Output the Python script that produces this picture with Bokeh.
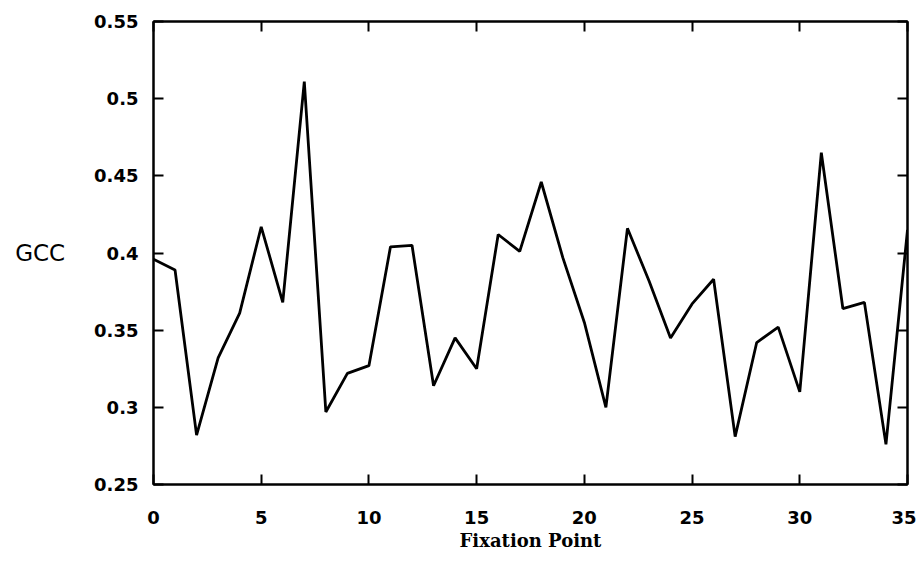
from bokeh.plotting import figure
from bokeh.models import LinearAxis, FixedTicker, Range1d
from bokeh.embed import file_html
from bokeh.resources import INLINE

fixation = list(range(36))
gcc = [0.396, 0.389, 0.282, 0.332, 0.361, 0.417, 0.368, 0.511, 0.297, 0.322,
       0.327, 0.404, 0.405, 0.314, 0.345, 0.325, 0.412, 0.401, 0.446, 0.397,
       0.355, 0.300, 0.416, 0.382, 0.345, 0.367, 0.383, 0.281, 0.342, 0.352,
       0.310, 0.465, 0.364, 0.368, 0.276, 0.415]

x_ticks = [0, 5, 10, 15, 20, 25, 30, 35]
y_ticks = [0.25, 0.30, 0.35, 0.40, 0.45, 0.50, 0.55]
y_tick_labels = ["0.25", "0.3", "0.35", "0.4", "0.45", "0.5", "0.55"]

TICK_FONT = "DejaVu Sans"
LABEL_FONT = "DejaVu Serif"

p = figure(width=916, height=553, output_backend="svg", toolbar_location=None,
           x_range=Range1d(0, 35), y_range=Range1d(0.25, 0.55),
           min_border_left=153, min_border_right=9, min_border_top=21,
           min_border_bottom=68, x_axis_location="below", y_axis_location="left")
p.grid.visible = False
p.outline_line_color = "black"
p.outline_line_width = 2
p.background_fill_color = "white"
p.border_fill_color = "white"

p.line(fixation, gcc, line_color="black", line_width=2.8)

def style(ax, labels=True):
    ax.axis_line_color = "black"
    ax.axis_line_width = 2
    ax.major_tick_in = 10
    ax.major_tick_out = 0
    ax.major_tick_line_width = 2
    ax.major_tick_line_color = "black"
    ax.minor_tick_line_color = None
    if labels:
        ax.major_label_text_font = TICK_FONT
        ax.major_label_text_font_style = "bold"
        ax.major_label_text_font_size = "18px"
        ax.major_label_text_color = "black"

xa = p.xaxis[0]
xa.ticker = FixedTicker(ticks=x_ticks)
style(xa)
xa.major_label_standoff = 26
xa.axis_label = "Fixation Point"
xa.axis_label_text_font = LABEL_FONT
xa.axis_label_text_font_style = "bold"
xa.axis_label_text_font_size = "18px"
xa.axis_label_text_color = "black"
xa.axis_label_standoff = 3

ya = p.yaxis[0]
ya.ticker = FixedTicker(ticks=y_ticks)
ya.major_label_overrides = {t: l for t, l in zip(y_ticks, y_tick_labels)}
style(ya)
ya.major_label_standoff = 15
ya.axis_label = "GCC"
ya.axis_label_orientation = "horizontal"
ya.axis_label_text_font = "DejaVu Sans"
ya.axis_label_text_font_style = "normal"
ya.axis_label_text_font_size = "23px"
ya.axis_label_text_color = "black"
ya.axis_label_standoff = 26

top = LinearAxis(ticker=FixedTicker(ticks=x_ticks))
top.major_label_overrides = {t: "" for t in x_ticks}
style(top, labels=False)
p.add_layout(top, "above")

right = LinearAxis(ticker=FixedTicker(ticks=y_ticks))
right.major_label_overrides = {t: "" for t in y_ticks}
style(right, labels=False)
p.add_layout(right, "right")

open("out.html", "w").write(file_html(p, INLINE))
